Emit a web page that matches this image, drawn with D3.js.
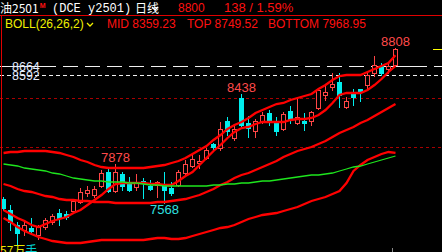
<!DOCTYPE html>
<html>
<head>
<meta charset="utf-8">
<script src="https://cdn.jsdelivr.net/npm/d3@7"></script>
<style>
  html, body { margin: 0; padding: 0; background: #000; overflow: hidden; }
  svg { display: block; }
</style>
</head>
<body>
<script>
// daily K-line, one entry per session
var opens = [7600,7512,7392,7352,7368,7312,7376,7416,7488,7480,
  7504,7576,7648,7632,7704,7816,7664,7800,7728,7696,
  7744,7704,7712,7704,7688,7712,7808,7864,7888,7928,
  8040,8008,8224,8088,8408,8208,8144,8216,8288,8208,
  8160,8304,8208,8224,8224,8328,8432,8496,8536,8336,
  8448,8480,8512,8608,8664,8640,8672];
var highs = [7616,7552,7416,7416,7448,7392,7448,7480,7520,7504,
  7600,7688,7704,7704,7832,7840,7878,7816,7776,7800,
  7768,7752,7744,7816,7736,7832,7912,7952,7952,8008,
  8048,8216,8256,8200,8438,8264,8240,8296,8312,8256,
  8296,8344,8416,8288,8304,8488,8512,8608,8608,8416,
  8480,8480,8616,8744,8688,8688,8808];
var lows = [7512,7352,7232,7312,7336,7280,7360,7400,7392,7440,
  7496,7568,7624,7616,7696,7656,7656,7672,7664,7672,
  7608,7672,7616,7568,7632,7704,7800,7856,7848,7920,
  7992,7992,8112,8072,8176,8096,8096,8208,8192,8112,
  8152,8208,8200,8152,8192,8320,8392,8472,8336,8328,
  8352,8384,8472,8584,8592,8608,8664];
var closes = [7528,7416,7328,7392,7344,7376,7432,7464,7448,7456,
  7584,7656,7672,7680,7808,7664,7816,7704,7672,7728,
  7728,7680,7736,7672,7648,7816,7880,7920,7904,7992,
  8016,8160,8144,8160,8192,8168,8224,8272,8224,8144,
  8280,8240,8256,8208,8296,8472,8456,8520,8432,8384,
  8416,8456,8592,8672,8608,8662,8800];

// BOLL(26,26,2)
var bollTop = [7968,7976,7976,7984,7984,7984,7984,7976,7968,7952,
  7936,7912,7896,7872,7856,7848,7848,7848,7848,7848,
  7848,7856,7864,7872,7888,7904,7928,7960,7992,8024,
  8072,8112,8160,8192,8216,8248,8288,8312,8336,8360,
  8368,8392,8408,8424,8440,8480,8512,8552,8584,8592,
  8592,8592,8616,8640,8664,8688,8749.52];
var bollMid = [7720,7704,7680,7664,7656,7640,7624,7616,7600,7592,
  7592,7584,7584,7576,7576,7576,7568,7568,7568,7568,
  7568,7568,7576,7576,7584,7592,7600,7616,7632,7656,
  7680,7712,7736,7768,7792,7808,7832,7856,7880,7904,
  7936,7960,7984,8000,8016,8040,8064,8096,8128,8152,
  8176,8208,8232,8264,8296,8328,8359.23];
var bollBottom = [7448,7416,7376,7344,7320,7296,7280,7264,7256,7248,
  7248,7248,7256,7264,7272,7272,7272,7272,7272,7272,
  7272,7280,7288,7288,7280,7280,7288,7304,7320,7336,
  7352,7368,7376,7392,7416,7440,7456,7472,7480,7488,
  7504,7520,7536,7560,7584,7600,7616,7640,7664,7728,
  7824,7872,7912,7936,7960,7976,7968.95];

// the two other overlay lines (red follows price, green is the slow one)
var lineFast = [7512,7480,7448,7424,7392,7376,7400,7424,7440,7456,
  7488,7512,7552,7592,7632,7680,7720,7728,7728,7728,
  7728,7720,7720,7712,7712,7744,7784,7816,7872,7928,
  7984,8032,8088,8136,8168,8176,8200,8216,8216,8216,
  8216,8232,8240,8240,8248,8272,8312,8368,8432,8448,
  8448,8448,8472,8512,8560,8616,8664];
var lineSlow = [7880,7872,7864,7848,7840,7832,7824,7808,7800,7784,
  7768,7760,7752,7744,7744,7736,7736,7736,7728,7728,
  7720,7712,7712,7704,7704,7704,7704,7704,7704,7704,
  7712,7712,7720,7720,7728,7728,7736,7744,7744,7752,
  7760,7768,7776,7784,7792,7792,7800,7808,7824,7840,
  7856,7864,7880,7896,7912,7928,7944];

var refPrices = [8664, 8592];
var gridPrices = [8408, 8016];
var markIndex = [16, 23, 34, 56];
var markPrice = [7878, 7568, 8438, 8808];
var lastPrice = 8800, change = 138, changePct = 1.59;

var W = 442, H = 252;
var RED = "#ff1010", CANDLE_RED = "#ff4646", CYAN = "#00eeee";

var svg = d3.select("body").append("svg")
  .attr("width", W)
  .attr("height", H)
  .style("background", "#000");

var x = d3.scaleLinear().domain([0, opens.length - 1]).range([3.5, 395.5]);
var y = d3.scaleLinear().domain([7176, 9056]).range([252, 17]);

function py(v) { return Math.round(y(v)) + 0.5; }

var plot = svg.append("g");

// grid lines
plot.selectAll(".grid")
  .data(gridPrices)
  .enter()
  .append("line")
    .attr("x1", 0).attr("x2", W)
    .attr("y1", py).attr("y2", py)
    .attr("stroke", "#a80000")
    .attr("stroke-dasharray", "3,3");

// reference prices: long dash and short dash
plot.append("line")
  .attr("x1", 0).attr("x2", W)
  .attr("y1", py(refPrices[0])).attr("y2", py(refPrices[0]))
  .attr("stroke", "#f0f0f0")
  .attr("stroke-dasharray", "56,7,15,7,15,7,15,7,15,7,15,7,15,7,15,7,15,7,15,7,15,7,15,7,15,7,15,7,15,7");
plot.append("line")
  .attr("x1", 0).attr("x2", W)
  .attr("y1", py(refPrices[1])).attr("y2", py(refPrices[1]))
  .attr("stroke", "#f0f0f0")
  .attr("stroke-dasharray", "4,3");

plot.selectAll(".ref-label")
  .data(refPrices)
  .enter()
  .append("text")
    .attr("x", 12)
    .attr("y", function (d) { return y(d) + 5; })
    .attr("fill", "#e4ecff")
    .style("font", "12.5px 'Liberation Sans', Arial, sans-serif")
    .text(function (d) { return d; });

// candles
var candles = plot.selectAll(".candle")
  .data(opens.map(function (o, i) {
    return { i: i, o: o, h: highs[i], l: lows[i], c: closes[i] };
  }))
  .enter()
  .append("g");

candles.append("line")
  .attr("x1", function (d) { return x(d.i); })
  .attr("x2", function (d) { return x(d.i); })
  .attr("y1", function (d) { return Math.round(y(d.h)); })
  .attr("y2", function (d) { return Math.round(y(d.l)) + 1; })
  .attr("stroke", function (d) { return d.c >= d.o ? CANDLE_RED : CYAN; });

candles.append("rect")
  .attr("x", function (d) { return d.c >= d.o ? x(d.i) - 2 : x(d.i) - 2.5; })
  .attr("width", function (d) { return d.c >= d.o ? 4 : 5; })
  .attr("y", function (d) {
    var t = Math.round(y(Math.max(d.o, d.c)));
    return d.c >= d.o ? t + 0.5 : t;
  })
  .attr("height", function (d) {
    var t = Math.round(y(Math.max(d.o, d.c))), b = Math.round(y(Math.min(d.o, d.c)));
    return Math.max(d.c >= d.o ? b - t : b - t + 1, 1);
  })
  .attr("fill", function (d) { return d.c >= d.o ? "#000" : CYAN; })
  .attr("stroke", function (d) { return d.c >= d.o ? CANDLE_RED : "none"; })
  .attr("shape-rendering", "crispEdges");

// overlay lines
var line = d3.line()
  .x(function (d, i) { return x(i); })
  .y(function (d) { return y(d); });

[bollTop, bollMid, bollBottom, lineFast].forEach(function (s) {
  plot.append("path")
    .attr("d", line(s))
    .attr("fill", "none")
    .attr("stroke", "#ff0000")
    .attr("stroke-width", 2.3);
});
plot.append("path")
  .attr("d", line(lineSlow))
  .attr("fill", "none")
  .attr("stroke", "#1ee61e")
  .attr("stroke-width", 1.3);

// high / low marks
markIndex.forEach(function (idx, k) {
  var v = markPrice[k], isLow = v <= lows[idx];
  plot.append("text")
    .attr("x", x(idx))
    .attr("y", isLow ? y(v) + 11 : y(v) - 2)
    .attr("text-anchor", "middle")
    .attr("fill", isLow ? "#2fe0e0" : "#ff4a4a")
    .style("font", "13px 'Liberation Sans', Arial, sans-serif")
    .text(v);
});

// last price marker on the right edge
plot.append("line")
  .attr("x1", 433).attr("x2", W)
  .attr("y1", py(lastPrice)).attr("y2", py(lastPrice))
  .attr("stroke", "#ffff00");

plot.append("line")
  .attr("x1", 392.5).attr("x2", 392.5)
  .attr("y1", 248).attr("y2", H)
  .attr("stroke", "#888");

// frame
svg.append("line")
  .attr("x1", 0).attr("x2", W).attr("y1", 15.5).attr("y2", 15.5)
  .attr("stroke", "#e00000");
svg.append("line")
  .attr("x1", 1.5).attr("x2", 1.5).attr("y1", 15).attr("y2", H)
  .attr("stroke", "#e00000");

// header row 1
var cjk = "'Noto Sans CJK SC', sans-serif",
    sans = "'Liberation Sans', Arial, sans-serif",
    mono = "'Liberation Mono', monospace";

var h1 = svg.append("text").attr("x", 0).attr("y", 13);
h1.append("tspan").attr("fill", "#fff").style("font", "12px " + cjk).text("油2501");
h1.append("tspan").attr("fill", RED).attr("dx", 1).attr("dy", -5).style("font", "bold 7px " + sans).text("M");

svg.append("text").attr("x", 52).attr("y", 12)
  .attr("fill", "#fff").style("font", "12px " + mono).text("(DCE y2501)");
svg.append("text").attr("x", 135).attr("y", 13)
  .attr("fill", "#fff").style("font", "12px " + cjk).text("日线");
svg.append("path").attr("d", "M152,7 L155,10 L158,7")
  .attr("fill", "none").attr("stroke", "#fff").attr("stroke-width", 1.3);
svg.append("text").attr("x", 178).attr("y", 12)
  .attr("fill", RED).style("font", "12px " + sans).text(lastPrice);
svg.append("text").attr("x", 224).attr("y", 12)
  .attr("fill", RED).style("font", "13px " + sans).text(change + " / " + changePct.toFixed(2) + "%");

// header row 2: indicator legend
svg.append("text").attr("x", 5).attr("y", 28)
  .attr("fill", "#f0f000").style("font", "12px " + sans).text("BOLL(26,26,2)");
svg.append("path").attr("d", "M87,23 L90,26 L93,23")
  .attr("fill", "none").attr("stroke", "#f0f000").attr("stroke-width", 1.3);
svg.append("text").attr("x", 107).attr("y", 28)
  .attr("fill", RED).style("font", "12px " + sans).text("MID " + bollMid[bollMid.length - 1].toFixed(2));
svg.append("text").attr("x", 187).attr("y", 28)
  .attr("fill", RED).style("font", "12px " + sans).text("TOP " + bollTop[bollTop.length - 1].toFixed(2));
svg.append("text").attr("x", 268).attr("y", 28)
  .attr("fill", RED).style("font", "12px " + sans).text("BOTTOM " + bollBottom[bollBottom.length - 1].toFixed(2));

// volume legend cut off at bottom
var vol = svg.append("text").attr("x", 0).attr("y", 255).style("font", "12px " + cjk);
vol.append("tspan").attr("fill", "#e8e800").text("57万");
vol.append("tspan").attr("fill", "#00d0d0").text("手");
</script>
</body>
</html>
